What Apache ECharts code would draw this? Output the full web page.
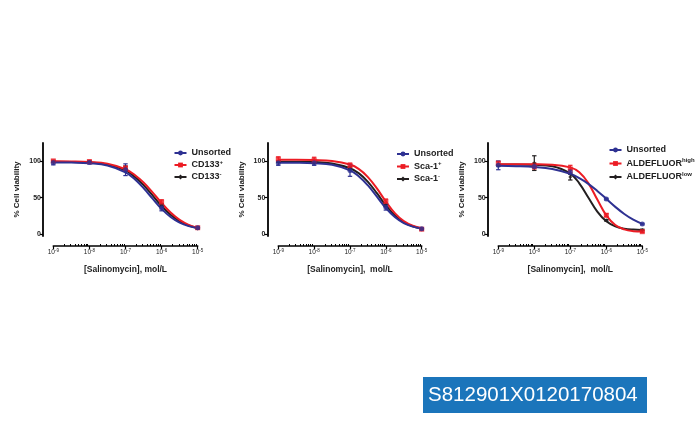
<!DOCTYPE html>
<html><head><meta charset="utf-8">
<script src="https://cdn.jsdelivr.net/npm/echarts@6/dist/echarts.min.js"></script>
<style>html,body{margin:0;padding:0;background:#fff}#c{width:700px;height:448px}</style>
</head><body><div id="c"></div>
<script>
// ---- data (x values are log10 of molar concentration) ----
const concExp = [-9, -8, -7, -6, -5];
const xTickExp = [-9, -8, -7, -6, -5];
const yTickValues = [0, 50, 100];
const curveExp = [-9, -8.5, -8, -7.5, -7, -6.75, -6.5, -6.25, -6, -5.75, -5.5, -5.25, -5];

// Panel 1: CD133
const p1Names = ['Unsorted', 'CD133+', 'CD133-'];
const p1UnsortedPts = [97.6, 98, 88, 36, 9];
const p1UnsortedErr = [3, 2, 8, 4, 1];
const p1PosPts = [100, 99, 90, 44, 9];
const p1PosErr = [1, 2, 3, 3, 1];
const p1NegPts = [99, 99, 91, 40, 8];
const p1NegErr = [1, 1, 2, 2, 1];
const p1UnsortedFit = [98, 97.7, 96.8, 93.8, 84.5, 75.5, 63, 48.6, 34.6, 23.5, 15.8, 11.1, 8.3];
const p1PosFit = [99.4, 99.2, 98.4, 96.0, 88.6, 81.2, 70.5, 57.1, 42.6, 29.6, 19.6, 12.8, 8.6];
const p1NegFit = [98.8, 98.5, 97.7, 95.0, 87.0, 78.6, 67.0, 53.0, 38.5, 26.5, 17.7, 12.0, 8.5];

// Panel 2: Sca-1
const p2Names = ['Unsorted', 'Sca-1+', 'Sca-1-'];
const p2UnsortedPts = [97, 97, 87, 37, 7.5];
const p2UnsortedErr = [3, 3, 8, 4, 1];
const p2PosPts = [102.5, 101, 94, 45, 7];
const p2PosErr = [3, 4, 3, 3, 1];
const p2NegPts = [99, 98, 90, 40, 7];
const p2NegErr = [1, 1, 2, 2, 1];
const p2UnsortedFit = [97.5, 97.4, 96.8, 94.7, 87.2, 78.9, 66.6, 51.3, 35.8, 23.6, 15.3, 10.5, 7.8];
const p2PosFit = [101.5, 101.5, 101.2, 100.0, 95.0, 88.8, 78.0, 62.5, 44.7, 28.9, 18.0, 11.7, 8.3];
const p2NegFit = [99, 98.9, 98.4, 96.5, 90, 83, 71.5, 56, 39.5, 25.5, 16.3, 10.9, 7.9];

// Panel 3: ALDEFLUOR
const p3Names = ['Unsorted', 'ALDEFLUOR high', 'ALDEFLUOR low'];
const p3UnsortedPts = [94, 92.5, 85, 48, 14];
const p3UnsortedErr = [6, 2, 3, 1, 1];
const p3HighPts = [97, 93, 89, 26, 3.6];
const p3HighErr = [2, 4, 5, 2, 1];
const p3LowPts = [94, 97, 78, 19, 6];
const p3LowErr = [1, 10, 4, 1, 1];
const p3UnsortedFit = [93.3, 92.8, 91.7, 88.9, 82.3, 76.6, 68.8, 59.1, 48.3, 37.4, 27.7, 19.9, 14.2];
const p3HighFit = [95.5, 95.5, 95.4, 94.9, 91.2, 84.4, 69.8, 47.3, 25.8, 12.6, 6.7, 4.3, 3.7];
const p3LowFit = [95, 95, 94.6, 92.8, 82.8, 69.5, 50.25, 31.0, 17.7, 10.8, 7.7, 6.4, 5.9];

const labelText = 'S812901X0120170804';
const xTitle = ['[Salinomycin], mol/L', '[Salinomycin],  mol/L', '[Salinomycin],  mol/L'];
const yTitle = '% Cell viability';

// ---- styles ----
const BLUE = '#2e3192', RED = '#ec1c24', BLACK = '#231f20';
const FONT = 'Liberation Sans, Arial, Helvetica, sans-serif';

const panels = [
  { grid: {left: 53.3, top: 143, width: 144.4, height: 93}, yOff: 10.3, legend: {left: 173.5, top: 147.5, gap: 0.5},
    groups: [
      {name: p1Names[2], color: BLACK, symbol: 'diamond', size: 4, pts: p1NegPts, err: p1NegErr, fit: p1NegFit},
      {name: p1Names[1], color: RED, symbol: 'rect', size: 5, pts: p1PosPts, err: p1PosErr, fit: p1PosFit},
      {name: p1Names[0], color: BLUE, symbol: 'circle', size: 5, pts: p1UnsortedPts, err: p1UnsortedErr, fit: p1UnsortedFit}
    ], legendData: p1Names },
  { grid: {left: 278.3, top: 143, width: 143.4, height: 93}, yOff: 11, legend: {left: 396, top: 148.5, gap: 1},
    groups: [
      {name: p2Names[2], color: BLACK, symbol: 'diamond', size: 4, pts: p2NegPts, err: p2NegErr, fit: p2NegFit},
      {name: p2Names[1], color: RED, symbol: 'rect', size: 5, pts: p2PosPts, err: p2PosErr, fit: p2PosFit},
      {name: p2Names[0], color: BLUE, symbol: 'circle', size: 5, pts: p2UnsortedPts, err: p2UnsortedErr, fit: p2UnsortedFit}
    ], legendData: p2Names },
  { grid: {left: 498.3, top: 143, width: 144, height: 93}, yOff: 10.6, legend: {left: 608.5, top: 144.5, gap: 2},
    groups: [
      {name: p3Names[2], color: BLACK, symbol: 'diamond', size: 4, pts: p3LowPts, err: p3LowErr, fit: p3LowFit},
      {name: p3Names[1], color: RED, symbol: 'rect', size: 5, pts: p3HighPts, err: p3HighErr, fit: p3HighFit},
      {name: p3Names[0], color: BLUE, symbol: 'circle', size: 5, pts: p3UnsortedPts, err: p3UnsortedErr, fit: p3UnsortedFit}
    ], legendData: p3Names }
];

// minor tick positions for a log axis (2..9 within each decade)
const minorTicks = [];
for (let d = -9; d < -5; d++) for (let k = 2; k <= 9; k++) minorTicks.push(d + Math.log10(k));

const legendFormatter = function (name) {
  const map = {
    'CD133+': 'CD133{s|+}', 'CD133-': 'CD133{s|-}',
    'Sca-1+': 'Sca-1{s|+}', 'Sca-1-': 'Sca-1{s|-}',
    'ALDEFLUOR high': 'ALDEFLUOR{s|high}', 'ALDEFLUOR low': 'ALDEFLUOR{s|low}'
  };
  return map[name] || name;
};

const grids = [], xAxes = [], yAxes = [], series = [], legends = [];
panels.forEach((p, i) => {
  grids.push(Object.assign({containLabel: false}, p.grid));
  // main x axis
  xAxes.push({
    type: 'value', gridIndex: i, min: -9, max: -5, interval: 1, position: 'bottom', offset: 10,
    axisLine: {show: true, onZero: false, lineStyle: {color: '#000', width: 1.6}},
    axisTick: {show: true, length: 3, inside: false, lineStyle: {color: '#000', width: 1.2}},
    axisLabel: {
      show: true, margin: 2, color: '#222', fontFamily: FONT,
      formatter: v => '{b|10}{s|-' + Math.abs(Math.round(v)) + '}',
      rich: {b: {fontSize: 6.5, fontFamily: FONT, color: '#222'},
             s: {fontSize: 4.5, fontFamily: FONT, color: '#222', padding: [0, 0, 4, 0]}}
    },
    splitLine: {show: false},
    name: xTitle[i], nameLocation: 'middle', nameGap: 19,
    nameTextStyle: {fontSize: 8.5, fontWeight: 'bold', color: '#222', fontFamily: FONT}
  });
  // minor ticks x axis
  xAxes.push({
    type: 'value', gridIndex: i, min: -9, max: -5, position: 'bottom', offset: 10,
    axisLine: {show: false, onZero: false},
    axisTick: {show: true, inside: true, length: 2, customValues: minorTicks, lineStyle: {color: '#000', width: 1}},
    axisLabel: {show: false}, splitLine: {show: false}
  });
  yAxes.push({
    type: 'value', gridIndex: i, min: -2.3, max: 124.4, position: 'left', offset: p.yOff,
    axisLine: {show: true, onZero: false, lineStyle: {color: '#000', width: 1.8}},
    axisTick: {show: true, length: 3, customValues: yTickValues, lineStyle: {color: '#000', width: 1.2}},
    axisLabel: {show: true, customValues: yTickValues, margin: 2, fontSize: 7, fontWeight: 'bold', color: '#222', fontFamily: FONT},
    splitLine: {show: false},
    name: yTitle, nameLocation: 'middle', nameGap: 22, nameRotate: 90,
    nameTextStyle: {fontSize: 8, fontWeight: 'bold', color: '#222', fontFamily: FONT}
  });
  const xi = i * 2;
  p.groups.forEach(g => {
    series.push({
      type: 'line', name: g.name, xAxisIndex: xi, yAxisIndex: i, smooth: 0.4,
      symbol: g.symbol, showSymbol: false, symbolSize: g.size,
      lineStyle: {color: g.color, width: 2}, itemStyle: {color: g.color},
      data: curveExp.map((x, k) => [x, g.fit[k]]), z: 3, silent: true, animation: false
    });
    series.push({
      type: 'custom', xAxisIndex: xi, yAxisIndex: i, z: 4, animation: false, silent: true,
      data: concExp.map((x, k) => [x, g.pts[k] - g.err[k], g.pts[k] + g.err[k]]),
      renderItem: (params, api) => {
        const lo = api.coord([api.value(0), api.value(1)]);
        const hi = api.coord([api.value(0), api.value(2)]);
        const w = 2.2;
        const st = {stroke: g.color, lineWidth: 1.2};
        return {type: 'group', children: [
          {type: 'line', shape: {x1: lo[0], y1: lo[1], x2: hi[0], y2: hi[1]}, style: st},
          {type: 'line', shape: {x1: lo[0] - w, y1: lo[1], x2: lo[0] + w, y2: lo[1]}, style: st},
          {type: 'line', shape: {x1: hi[0] - w, y1: hi[1], x2: hi[0] + w, y2: hi[1]}, style: st}
        ]};
      }
    });
    series.push({
      type: 'scatter', xAxisIndex: xi, yAxisIndex: i, z: 5, animation: false, silent: true,
      symbol: g.symbol, symbolSize: g.size, itemStyle: {color: g.color},
      data: concExp.map((x, k) => [x, g.pts[k]])
    });
  });
  legends.push({
    orient: 'vertical', left: p.legend.left, top: p.legend.top, padding: 0,
    itemWidth: 12, itemHeight: 6, itemGap: p.legend.gap,
    data: p.legendData, selectedMode: false, formatter: legendFormatter,
    textStyle: {fontSize: 9, fontWeight: 'bold', color: '#222', fontFamily: FONT, lineHeight: 11,
      rich: {s: {fontSize: 6, fontWeight: 'bold', color: '#222', fontFamily: FONT, padding: [0, 0, 6, 0]}}}
  });
});

const chart = echarts.init(document.getElementById('c'), null, {renderer: 'canvas'});
chart.setOption({
  animation: false,
  backgroundColor: '#fff',
  grid: grids, xAxis: xAxes, yAxis: yAxes, series: series, legend: legends,
  graphic: [
    {type: 'rect', left: 423, top: 377, shape: {width: 224, height: 36}, style: {fill: '#1b75bb'}, z: 10},
    {type: 'text', left: 428, top: 384.5, style: {text: labelText, fill: '#fff', fontSize: 20.5, fontFamily: FONT}, z: 11}
  ]
});
</script>
</body></html>
